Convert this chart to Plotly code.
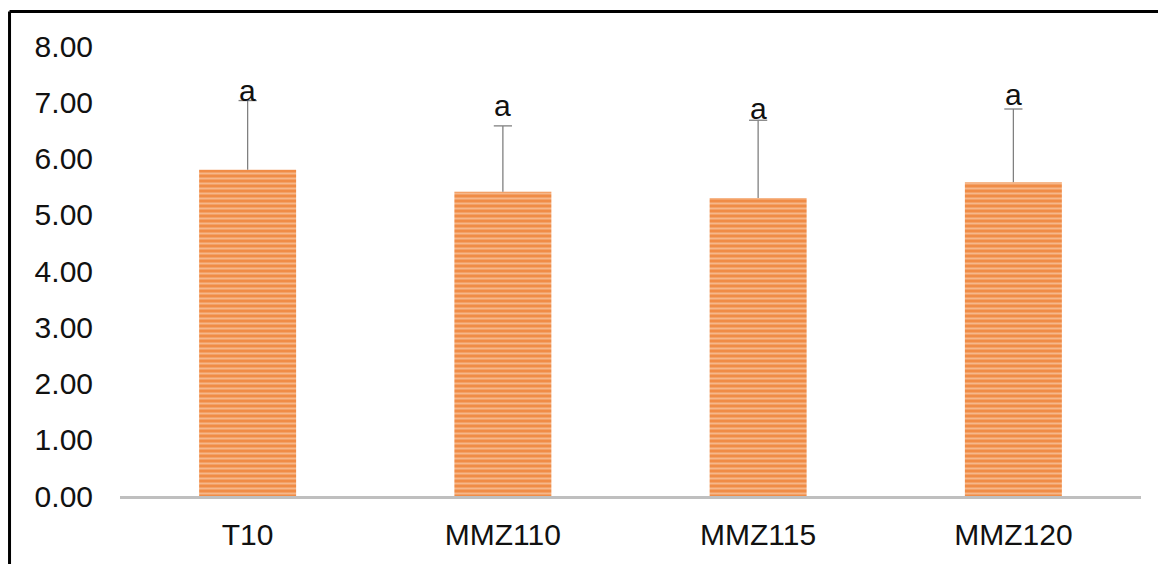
import plotly.graph_objects as go

categories = ["T10", "MMZ110", "MMZ115", "MMZ120"]
means = [5.80, 5.41, 5.30, 5.58]
errors = [1.23, 1.17, 1.38, 1.30]
letters = ["a", "a", "a", "a"]
letter_y = [7.21, 6.95, 6.89, 7.14]
y_ticks = [0, 1, 2, 3, 4, 5, 6, 7, 8]

FONT = "Liberation Sans, Arial, sans-serif"
ERR_COLOR = "#808080"

fig = go.Figure()
fig.add_trace(go.Bar(
    x=categories,
    y=means,
    width=0.38,
    marker=dict(
        color="#F08C46",
        line=dict(width=0),
        pattern=dict(shape="-", fgcolor="#FCE1CD", bgcolor="#F08C46", size=5, solidity=0.4),
    ),
    showlegend=False,
))

# upper-only error bars: stem from bar top to mean+error, cap at the top
seg_x, seg_y = [], []
for c, m, e in zip(categories, means, errors):
    seg_x += [c, c, None]
    seg_y += [m, m + e, None]
fig.add_trace(go.Scatter(x=seg_x, y=seg_y, mode="lines",
                         line=dict(color=ERR_COLOR, width=1.3),
                         hoverinfo="skip", showlegend=False))
fig.add_trace(go.Scatter(x=categories, y=[m + e for m, e in zip(means, errors)], mode="markers",
                         marker=dict(symbol="line-ew", size=13,
                                     line=dict(color=ERR_COLOR, width=1.3)),
                         hoverinfo="skip", showlegend=False))

for c, t, yy in zip(categories, letters, letter_y):
    fig.add_annotation(x=c, y=yy, text=t, showarrow=False, yanchor="middle",
                       font=dict(size=30, color="#111111", family=FONT))

# outer frame (left & top edges visible)
fig.add_shape(type="line", xref="paper", yref="paper", x0=-0.1082, x1=1.1, y0=1.0767, y1=1.0767,
              line=dict(color="black", width=3))
fig.add_shape(type="line", xref="paper", yref="paper", x0=-0.1082, x1=-0.1082, y0=-0.3, y1=1.0767,
              line=dict(color="black", width=3))

fig.update_layout(
    width=1166, height=564,
    margin=dict(l=112, r=33, t=38, b=76),
    paper_bgcolor="white", plot_bgcolor="white",
    font=dict(family=FONT, size=30, color="#111111"),
)
fig.update_xaxes(showgrid=False, showline=True, linecolor="#BFBFBF", linewidth=3,
                 ticks="", ticklabelstandoff=10, range=[-0.5, 3.5])
fig.update_yaxes(range=[0, 8], tickvals=y_ticks, tickformat=".2f", showgrid=False,
                 showline=False, zeroline=False, ticks="", ticklabelstandoff=26)

fig.write_html("out.html")
